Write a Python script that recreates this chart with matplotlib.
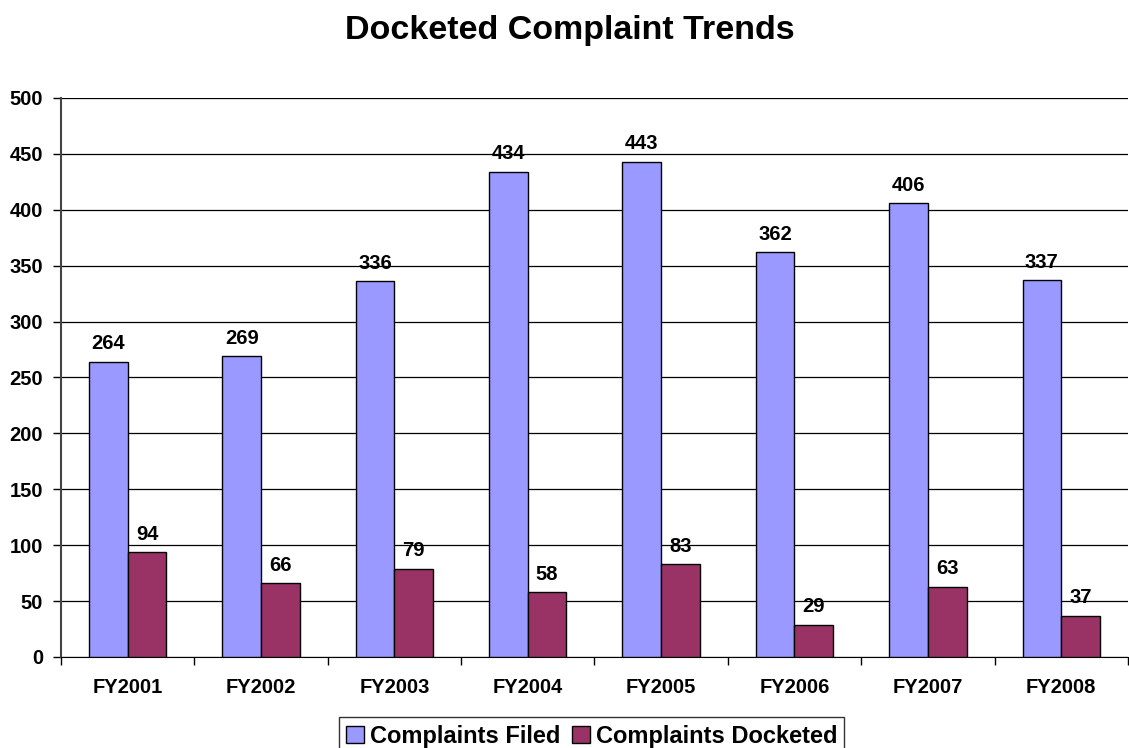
import matplotlib
matplotlib.use("Agg")
import matplotlib.pyplot as plt
import numpy as np

years = ["FY2001", "FY2002", "FY2003", "FY2004", "FY2005", "FY2006", "FY2007", "FY2008"]
filed = [264, 269, 336, 434, 443, 362, 406, 337]
docketed = [94, 66, 79, 58, 83, 29, 63, 37]

plt.rcParams["font.family"] = ["Liberation Sans", "DejaVu Sans"]
plt.rcParams["font.weight"] = "bold"

fig = plt.figure(figsize=(11.29, 7.48), dpi=100)
ax = fig.add_axes([0.054, 0.1217, 0.945, 0.7473])

x = np.arange(len(years))
width = 0.29
b1 = ax.bar(x - width / 2, filed, width, color="#9999FF", edgecolor="black",
            linewidth=1.0, label="Complaints Filed", zorder=3)
b2 = ax.bar(x + width / 2, docketed, width, color="#993366", edgecolor="black",
            linewidth=1.0, label="Complaints Docketed", zorder=3)

for bars, vals in ((b1, filed), (b2, docketed)):
    for rect, v in zip(bars, vals):
        ax.annotate(str(v), (rect.get_x() + rect.get_width() / 2, rect.get_height()),
                    xytext=(0, 6), textcoords="offset points", ha="center", va="bottom",
                    fontsize=14.5, fontweight="bold")

ax.set_xlim(-0.5, len(years) - 0.5)
ax.set_ylim(0, 500)
ax.set_yticks(range(0, 501, 50))
ax.yaxis.grid(True, color="black", linewidth=0.9, zorder=0)
ax.set_axisbelow(True)

ax.set_xticks(x)
ax.set_xticklabels(years, fontsize=14.5, fontweight="bold")
ax.set_xticks(np.arange(-0.5, len(years)), minor=True)
ax.tick_params(axis="x", which="major", length=0, pad=15)
ax.tick_params(axis="x", which="minor", length=6, width=1, direction="out")
ax.tick_params(axis="y", labelsize=14.5, length=6, width=1, pad=7)
for lab in ax.get_yticklabels():
    lab.set_fontweight("bold")

ax.spines["top"].set_visible(False)
ax.spines["right"].set_visible(False)
ax.spines["left"].set_color("#444444")
ax.spines["left"].set_linewidth(1.5)
ax.spines["bottom"].set_color("black")

fig.text(0.505, 0.959, "Docketed Complaint Trends", ha="center", va="center",
         fontsize=24.5, fontweight="bold")

leg = fig.legend(loc="center", bbox_to_anchor=(0.524, 0.016), ncol=2,
                 frameon=True, fancybox=False, edgecolor="black", handlelength=0.75,
                 handleheight=0.75, handletextpad=0.25, columnspacing=0.5,
                 borderpad=0.3, borderaxespad=0, prop={"weight": "bold", "size": 17})
leg.get_frame().set_linewidth(1.0)

fig.savefig("out.png", dpi=100)
